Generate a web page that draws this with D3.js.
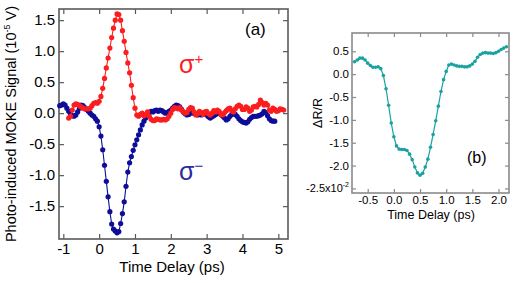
<!DOCTYPE html>
<meta charset="utf-8">
<style>
body { margin: 0; background: #fff; }
svg text { font-family: "Liberation Sans", Arial, Helvetica, sans-serif; fill: #000; }
.frameA { fill: none; stroke: #5a5a5a; stroke-width: 1.6; }
.frameB { fill: none; stroke: #8a8a8a; stroke-width: 1.6; }
.axA path, .axB path { display: none; }
.axA line { stroke: #5a5a5a; stroke-width: 1.2; }
.axB line { stroke: #8a8a8a; stroke-width: 1.2; }
</style>
<body>
<div id="chart"></div>
<script src="https://d3js.org/d3.v7.min.js"></script>
<script>
// panel (a): photo-induced MOKE signal, units of 1e-5 V, time in ps
var sigmaPlus = [
  [-0.85,-0.08],[-0.80,-0.05],[-0.75,0.05],[-0.70,0.13],[-0.65,0.15],[-0.60,0.14],[-0.55,0.12],
  [-0.50,0.10],[-0.45,0.08],[-0.40,0.07],[-0.35,0.07],[-0.30,0.07],[-0.25,0.08],[-0.20,0.12],
  [-0.15,0.16],[-0.10,0.17],[-0.05,0.16],[0.00,0.19],[0.05,0.27],[0.10,0.40],[0.15,0.56],
  [0.20,0.73],[0.25,0.89],[0.30,1.05],[0.35,1.22],[0.40,1.37],[0.45,1.50],[0.50,1.60],
  [0.55,1.59],[0.60,1.50],[0.65,1.33],[0.70,1.16],[0.75,0.98],[0.80,0.81],[0.85,0.65],
  [0.90,0.45],[0.95,0.25],[1.00,0.08],[1.05,-0.03],[1.10,-0.05],[1.15,-0.02],[1.20,0.00],
  [1.25,-0.04],[1.30,-0.02],[1.35,0.02],[1.40,-0.05],[1.45,-0.10],[1.50,-0.12],[1.55,-0.12],
  [1.60,-0.09],[1.65,-0.10],[1.70,-0.11],[1.75,-0.11],[1.80,-0.10],[1.85,-0.11],[1.90,-0.09],
  [1.95,-0.05],[2.00,0.00],[2.05,0.06],[2.10,0.09],[2.15,0.08],[2.20,0.07],[2.25,0.09],
  [2.30,0.05],[2.35,0.02],[2.40,0.00],[2.45,0.01],[2.50,0.06],[2.55,0.09],[2.60,0.08],
  [2.65,0.02],[2.70,-0.03],[2.75,-0.01],[2.80,0.03],[2.85,0.01],[2.90,-0.02],[2.95,0.02],
  [3.00,0.03],[3.05,-0.01],[3.10,-0.03],[3.15,0.00],[3.20,0.04],[3.25,0.02],[3.30,0.05],
  [3.35,0.03],[3.40,-0.02],[3.45,-0.03],[3.50,0.01],[3.55,0.04],[3.60,0.07],[3.65,0.08],
  [3.70,0.04],[3.75,0.02],[3.80,0.07],[3.85,0.11],[3.90,0.13],[3.95,0.11],[4.00,0.06],
  [4.05,0.06],[4.10,0.10],[4.15,0.08],[4.20,0.03],[4.25,0.05],[4.30,0.10],[4.35,0.11],
  [4.40,0.10],[4.45,0.14],[4.50,0.21],[4.55,0.17],[4.60,0.13],[4.65,0.16],[4.70,0.13],
  [4.75,0.05],[4.80,0.03],[4.85,0.08],[4.90,0.06],[4.95,0.03],[5.00,0.04],[5.05,0.07],
  [5.10,0.06],[5.15,0.05]
];
var sigmaMinus = [
  [-1.10,0.12],[-1.05,0.13],[-1.00,0.15],[-0.95,0.13],[-0.90,0.08],[-0.85,0.03],[-0.80,-0.02],
  [-0.75,-0.04],[-0.70,-0.05],[-0.65,-0.03],[-0.60,0.02],[-0.55,0.08],[-0.50,0.13],[-0.45,0.12],
  [-0.40,0.09],[-0.35,0.06],[-0.30,0.03],[-0.25,0.00],[-0.20,-0.03],[-0.15,-0.05],[-0.10,-0.09],
  [-0.05,-0.13],[0.00,-0.22],[0.05,-0.37],[0.10,-0.59],[0.15,-0.84],[0.20,-1.10],[0.25,-1.35],
  [0.30,-1.59],[0.35,-1.79],[0.40,-1.87],[0.45,-1.90],[0.50,-1.93],[0.55,-1.91],[0.60,-1.78],
  [0.65,-1.62],[0.70,-1.43],[0.75,-1.18],[0.80,-0.95],[0.85,-0.80],[0.90,-0.70],[0.95,-0.60],
  [1.00,-0.51],[1.05,-0.43],[1.10,-0.35],[1.15,-0.27],[1.20,-0.19],[1.25,-0.13],[1.30,-0.08],
  [1.35,-0.04],[1.40,0.01],[1.45,0.03],[1.50,0.02],[1.55,0.04],[1.60,0.05],[1.65,0.03],
  [1.70,0.05],[1.75,0.04],[1.80,0.02],[1.85,0.00],[1.90,0.01],[1.95,0.03],[2.00,0.05],
  [2.05,0.08],[2.10,0.11],[2.15,0.13],[2.20,0.12],[2.25,0.10],[2.30,0.06],[2.35,0.02],
  [2.40,-0.01],[2.45,-0.03],[2.50,-0.02],[2.55,0.00],[2.60,0.01],[2.65,0.00],[2.70,-0.02],
  [2.75,-0.03],[2.80,-0.02],[2.85,-0.03],[2.90,-0.01],[2.95,0.00],[3.00,-0.03],[3.05,-0.06],
  [3.10,-0.08],[3.15,-0.06],[3.20,-0.04],[3.25,-0.02],[3.30,0.00],[3.35,0.00],[3.40,-0.02],
  [3.45,-0.05],[3.50,-0.08],[3.55,-0.11],[3.60,-0.09],[3.65,-0.05],[3.70,-0.02],[3.75,0.00],
  [3.80,-0.02],[3.85,-0.05],[3.90,-0.09],[3.95,-0.12],[4.00,-0.14],[4.05,-0.15],[4.10,-0.16],
  [4.15,-0.14],[4.20,-0.10],[4.25,-0.07],[4.30,-0.05],[4.35,-0.05],[4.40,-0.05],[4.45,-0.04],
  [4.50,-0.03],[4.55,-0.01],[4.60,0.03],[4.65,0.01],[4.70,-0.04],[4.75,-0.09],[4.80,-0.12],
  [4.85,-0.13],[4.90,-0.13]
];
// panel (b): dR/R in units of 1e-2
var reflect = [
  [-0.75,0.27],[-0.70,0.31],[-0.65,0.35],[-0.60,0.35],[-0.55,0.31],[-0.50,0.24],[-0.45,0.19],
  [-0.40,0.15],[-0.35,0.15],[-0.30,0.16],[-0.25,0.12],[-0.20,-0.03],[-0.15,-0.32],[-0.10,-0.68],
  [-0.05,-1.07],[0.00,-1.37],[0.05,-1.57],[0.10,-1.64],[0.15,-1.65],[0.20,-1.65],[0.25,-1.67],
  [0.30,-1.75],[0.35,-1.87],[0.40,-2.03],[0.45,-2.16],[0.50,-2.21],[0.55,-2.17],[0.60,-2.03],
  [0.65,-1.86],[0.70,-1.60],[0.75,-1.32],[0.80,-1.02],[0.85,-0.70],[0.90,-0.38],[0.95,-0.12],
  [1.00,0.06],[1.05,0.20],[1.10,0.22],[1.15,0.20],[1.20,0.18],[1.25,0.17],[1.30,0.17],
  [1.35,0.16],[1.40,0.16],[1.45,0.18],[1.50,0.22],[1.55,0.28],[1.60,0.37],[1.65,0.43],
  [1.70,0.46],[1.75,0.47],[1.80,0.46],[1.85,0.46],[1.90,0.45],[1.95,0.47],[2.00,0.50],
  [2.05,0.54],[2.10,0.57],[2.15,0.60]
];
var ticksAx = [-1, 0, 1, 2, 3, 4, 5];
var ticksAy = [-1.5, -1.0, -0.5, 0.0, 0.5, 1.0, 1.5];
var ticksBx = [-0.5, 0.0, 0.5, 1.0, 1.5, 2.0];
var ticksBy = [-2.5, -2.0, -1.5, -1.0, -0.5, 0.0, 0.5];

var svg = d3.select("#chart").append("svg")
    .attr("width", 515)
    .attr("height", 283);

var f1 = d3.format(".1f");
function minus(s) { return s.replace("−", "-"); }

// ---------- panel (a)
var xa = d3.scaleLinear().domain([-1.12, 5.27]).range([59, 288]);
var ya = d3.scaleLinear().domain([-2.03, 1.68]).range([239, 9]);

svg.append("g").attr("class", "axA")
  .attr("transform", "translate(0,239)")
  .call(d3.axisBottom(xa).tickValues(ticksAx).tickSize(-5).tickPadding(4)
    .tickFormat(function(d) { return d < 0 ? "-" + (-d) : d; }))
  .selectAll("text").style("font-size", "15px");
svg.append("g").attr("class", "axA")
  .attr("transform", "translate(0,9)")
  .call(d3.axisTop(xa).tickValues(ticksAx).tickSize(-5).tickFormat(""));
svg.append("g").attr("class", "axA")
  .attr("transform", "translate(59,0)")
  .call(d3.axisLeft(ya).tickValues(ticksAy).tickSize(-5).tickPadding(4)
    .tickFormat(function(d) { return minus(f1(d)); }))
  .selectAll("text").style("font-size", "15px");
svg.append("g").attr("class", "axA")
  .attr("transform", "translate(288,0)")
  .call(d3.axisRight(ya).tickValues(ticksAy).tickSize(-5).tickFormat(""));

svg.append("rect").attr("class", "frameA")
  .attr("x", 59).attr("y", 9).attr("width", 229).attr("height", 230);

var lineA = d3.line().x(function(d) { return xa(d[0]); }).y(function(d) { return ya(d[1]); });

function series(data, line, xs, ys, col, r, lw) {
  var g = svg.append("g");
  g.append("path").datum(data)
    .attr("d", line).attr("fill", "none")
    .attr("stroke", col).attr("stroke-width", lw);
  g.selectAll("circle").data(data).enter().append("circle")
    .attr("cx", function(d) { return xs(d[0]); })
    .attr("cy", function(d) { return ys(d[1]); })
    .attr("r", r).attr("fill", col);
}
series(sigmaMinus, lineA, xa, ya, "#0d0d99", 2.6, 1.1);
series(sigmaPlus, lineA, xa, ya, "#fb1e1e", 2.6, 1.1);

svg.append("text")
  .attr("transform", "translate(15.5,124) rotate(-90)")
  .attr("text-anchor", "middle")
  .style("font-size", "14.5px")
  .text("Photo-induced MOKE Signal (10")
  .append("tspan").attr("dy", -6).style("font-size", "9px").text("-5")
  .select(function() { return this.parentNode; })
  .append("tspan").attr("dy", 6).text(" V)");

svg.append("text").attr("x", 172).attr("y", 271.5)
  .attr("text-anchor", "middle").style("font-size", "15px")
  .text("Time Delay (ps)");

svg.append("text").attr("x", 245).attr("y", 35)
  .style("font-size", "17px").text("(a)");

var sp = svg.append("text").attr("x", 179).attr("y", 73)
  .style("font-size", "25px").style("fill", "#fb1e1e").text("σ");
sp.append("tspan").attr("dy", -9).style("font-size", "15px").style("fill", "#fb1e1e").text("+");

var sm = svg.append("text").attr("x", 179).attr("y", 180)
  .style("font-size", "25px").style("fill", "#2a2aa0").text("σ");
sm.append("tspan").attr("dy", -9).style("font-size", "15px").style("fill", "#2a2aa0").text("−");

// ---------- panel (b)
var xb = d3.scaleLinear().domain([-0.8, 2.2]).range([352, 509]);
var yb = d3.scaleLinear().domain([-2.6, 0.9]).range([193, 33]);

svg.append("g").attr("class", "axB")
  .attr("transform", "translate(0,193)")
  .call(d3.axisBottom(xb).tickValues(ticksBx).tickSize(-4).tickPadding(3)
    .tickFormat(function(d) { return minus(f1(d)); }))
  .selectAll("text").style("font-size", "11.5px");
svg.append("g").attr("class", "axB")
  .attr("transform", "translate(0,33)")
  .call(d3.axisTop(xb).tickValues(ticksBx).tickSize(-4).tickFormat(""));
var yAxB = svg.append("g").attr("class", "axB")
  .attr("transform", "translate(352,0)")
  .call(d3.axisLeft(yb).tickValues(ticksBy).tickSize(-4).tickPadding(3)
    .tickFormat(function(d) { return d === -2.5 ? "" : minus(f1(d)); }));
yAxB.selectAll("text").style("font-size", "11.5px");
svg.append("g").attr("class", "axB")
  .attr("transform", "translate(509,0)")
  .call(d3.axisRight(yb).tickValues(ticksBy).tickSize(-4).tickFormat(""));

var lowLab = svg.append("text")
  .attr("x", 349).attr("y", yb(-2.5)).attr("dy", "0.32em")
  .attr("text-anchor", "end").style("font-size", "11px")
  .text("-2.5x10");
lowLab.append("tspan").attr("dy", -5).style("font-size", "7px").text("-2");

svg.append("rect").attr("class", "frameB")
  .attr("x", 352).attr("y", 33).attr("width", 157).attr("height", 160);

var lineB = d3.line().x(function(d) { return xb(d[0]); }).y(function(d) { return yb(d[1]); });
series(reflect, lineB, xb, yb, "#1aa2a0", 1.8, 1.2);

svg.append("text")
  .attr("transform", "translate(322,113) rotate(-90)")
  .attr("text-anchor", "middle").style("font-size", "12.5px")
  .text("ΔR/R");

svg.append("text").attr("x", 431).attr("y", 219)
  .attr("text-anchor", "middle").style("font-size", "12.5px")
  .text("Time Delay (ps)");

svg.append("text").attr("x", 467).attr("y", 163)
  .style("font-size", "16px").text("(b)");
</script>
</body>
